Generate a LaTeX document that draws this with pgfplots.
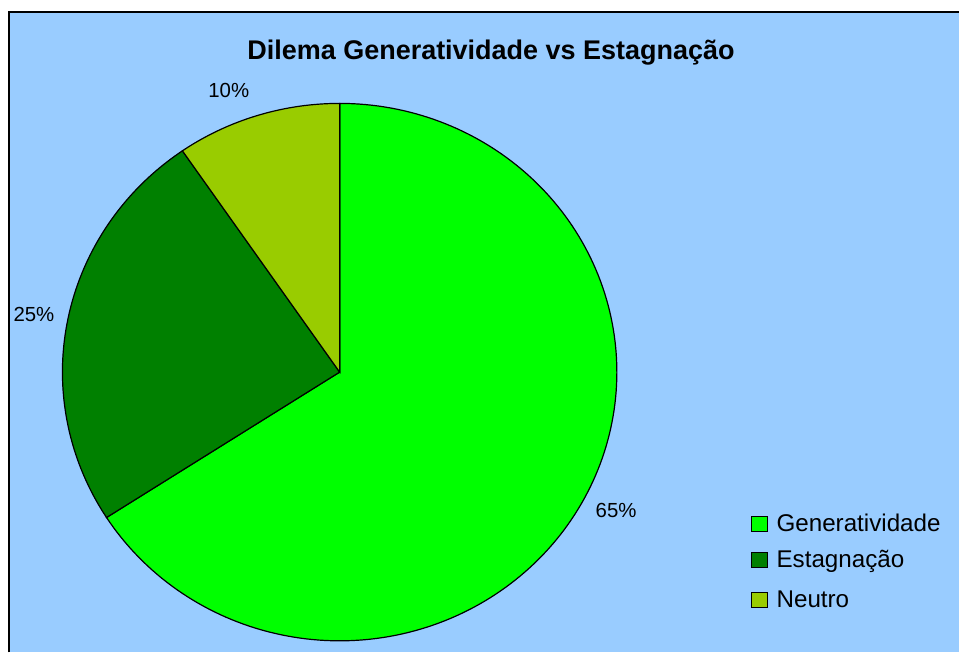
\documentclass[border=0pt]{standalone}
\usepackage{pgfplots}
\pgfplotsset{compat=1.18}
\usepackage{fontspec}
\setmainfont{Liberation Sans}
\definecolor{bg}{HTML}{99CCFF}
\definecolor{gen}{HTML}{00FF00}
\definecolor{est}{HTML}{008000}
\definecolor{neu}{HTML}{99CC00}
% slice shares (percent of the circle)
\def\vGen{65.9}
\def\vEst{24.5}
\def\vNeu{9.6}
\begin{document}
\begin{tikzpicture}
\pgfmathsetmacro{\aA}{90}
\pgfmathsetmacro{\aB}{\aA-3.6*\vGen}
\pgfmathsetmacro{\aC}{\aB-3.6*\vEst}
\pgfmathsetmacro{\aD}{\aC-3.6*\vNeu}
\def\cx{340}\def\cy{280.5}\def\rx{277.5}\def\ry{269}
\begin{axis}[
  width=480pt, height=326.5pt, scale only axis,
  xmin=0, xmax=960, ymin=0, ymax=653,
  hide axis, clip=false,
]
\fill[white] (axis cs:0,0) rectangle (axis cs:960,653);
\fill[bg] (axis cs:9,0) rectangle (axis cs:960,641);
\draw[black, line width=1pt] (axis cs:9,0) -- (axis cs:9,641) -- (axis cs:960,641);
% slices
\addplot[fill=gen, draw=black, line width=0.6pt, domain=\aB:\aA, samples=180]
  ({\cx+\rx*cos(x)},{\cy+\ry*sin(x)}) -- (axis cs:\cx,\cy) -- cycle;
\addplot[fill=est, draw=black, line width=0.6pt, domain=\aC:\aB, samples=90]
  ({\cx+\rx*cos(x)},{\cy+\ry*sin(x)}) -- (axis cs:\cx,\cy) -- cycle;
\addplot[fill=neu, draw=black, line width=0.6pt, domain=\aD:\aC, samples=40]
  ({\cx+\rx*cos(x)},{\cy+\ry*sin(x)}) -- (axis cs:\cx,\cy) -- cycle;
% labels
\node[font=\fontsize{10.2pt}{12pt}\selectfont] at (axis cs:229,562) {10\%};
\node[font=\fontsize{10.2pt}{12pt}\selectfont] at (axis cs:34,338) {25\%};
\node[anchor=base, inner sep=0pt, font=\fontsize{10.2pt}{12pt}\selectfont] at (axis cs:616.7,134.7) {65\%};
% title
\node[anchor=base, inner sep=0pt, font=\fontsize{13.5pt}{16pt}\selectfont\bfseries] at (axis cs:491.5,593.7) {Dilema Generatividade vs Estagnação};
% legend
\draw[fill=gen, line width=0.5pt] (axis cs:752.5,121.3) rectangle (axis cs:768.5,136.3);
\draw[fill=est, line width=0.5pt] (axis cs:752.5,84.7) rectangle (axis cs:768.5,99.7);
\draw[fill=neu, line width=0.5pt] (axis cs:752.5,44.7) rectangle (axis cs:768.5,59.7);
\node[anchor=base west, inner sep=0pt, font=\fontsize{12.1pt}{14pt}\selectfont] at (axis cs:777,121.3) {Generatividade};
\node[anchor=base west, inner sep=0pt, font=\fontsize{12.1pt}{14pt}\selectfont] at (axis cs:777,84.7) {Estagnação};
\node[anchor=base west, inner sep=0pt, font=\fontsize{12.1pt}{14pt}\selectfont] at (axis cs:777,44.7) {Neutro};
\end{axis}
\end{tikzpicture}
\end{document}
